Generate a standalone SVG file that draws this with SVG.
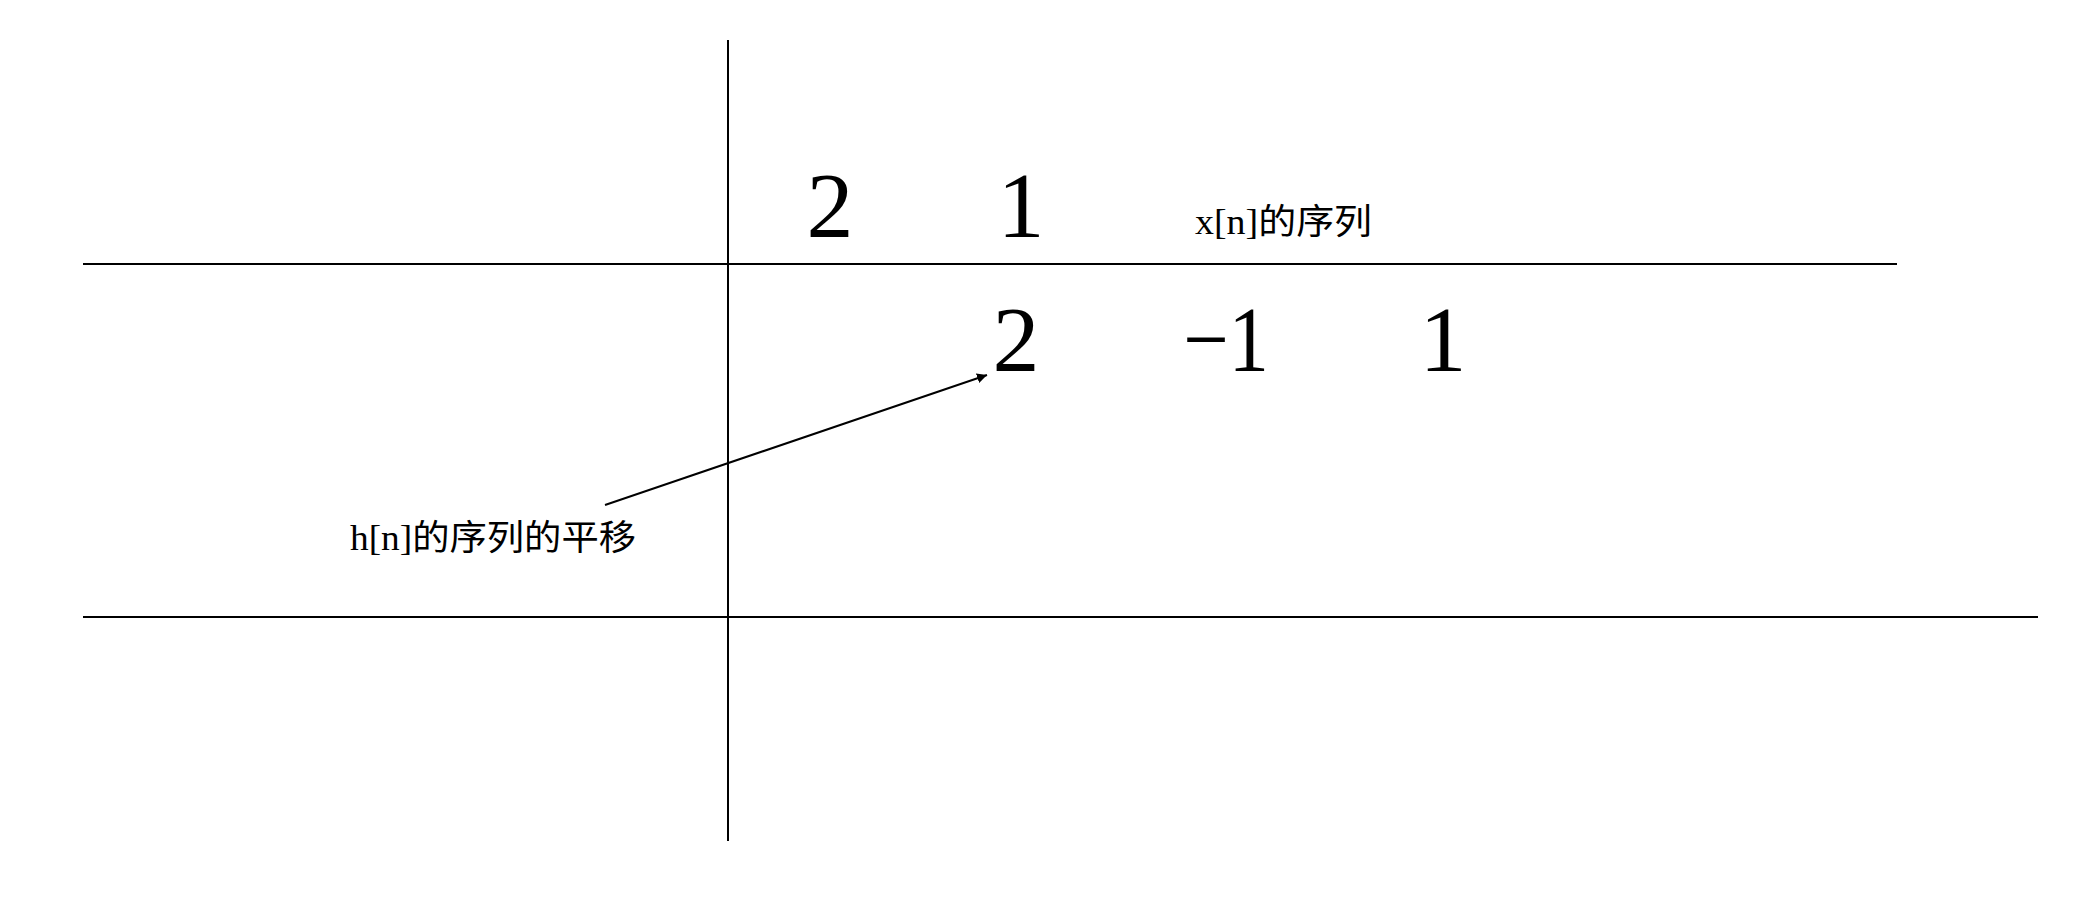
<svg xmlns="http://www.w3.org/2000/svg" width="2088" height="897" viewBox="0 0 2088 897">
<defs>
<style>
.ln{stroke:#000;stroke-width:2;fill:none}
.num{font-family:"Liberation Serif","DejaVu Serif",serif;font-size:94px;fill:#000}
.lbl{font-family:"Liberation Serif","Noto Sans CJK SC",serif;font-size:35px;fill:#000}
</style>
<marker id="ah" viewBox="0 0 10 10" refX="10" refY="5" markerWidth="10" markerHeight="10" markerUnits="userSpaceOnUse" orient="auto">
<path d="M0,0 L10,5 L0,10 z" fill="#000"/>
</marker>
</defs>
<rect width="2088" height="897" fill="#fff"/>
<g id="grid">
<line class="ln" x1="728" y1="40" x2="728" y2="841"/>
<line class="ln" x1="83" y1="264" x2="1897" y2="264"/>
<line class="ln" x1="83" y1="617" x2="2038" y2="617"/>
</g>
<g id="row1">
<text class="num" x="830" y="237" text-anchor="middle">2</text>
<text class="num" x="1021" y="237" text-anchor="middle">1</text>
<text class="lbl" x="1195" y="234" textLength="177" lengthAdjust="spacingAndGlyphs">x[n]的序列</text>
</g>
<g id="row2">
<text class="num" x="1016" y="371" text-anchor="middle">2</text>
<text class="num" x="1183" y="371" textLength="86" lengthAdjust="spacingAndGlyphs">−1</text>
<text class="num" x="1443" y="371" text-anchor="middle">1</text>
</g>
<g id="label-h">
<text class="lbl" x="350" y="550" textLength="286" lengthAdjust="spacingAndGlyphs">h[n]的序列的平移</text>
</g>
<g id="connectors">
<line class="ln" stroke-width="1.5" x1="605" y1="505" x2="987" y2="375" marker-end="url(#ah)"/>
</g>
</svg>
